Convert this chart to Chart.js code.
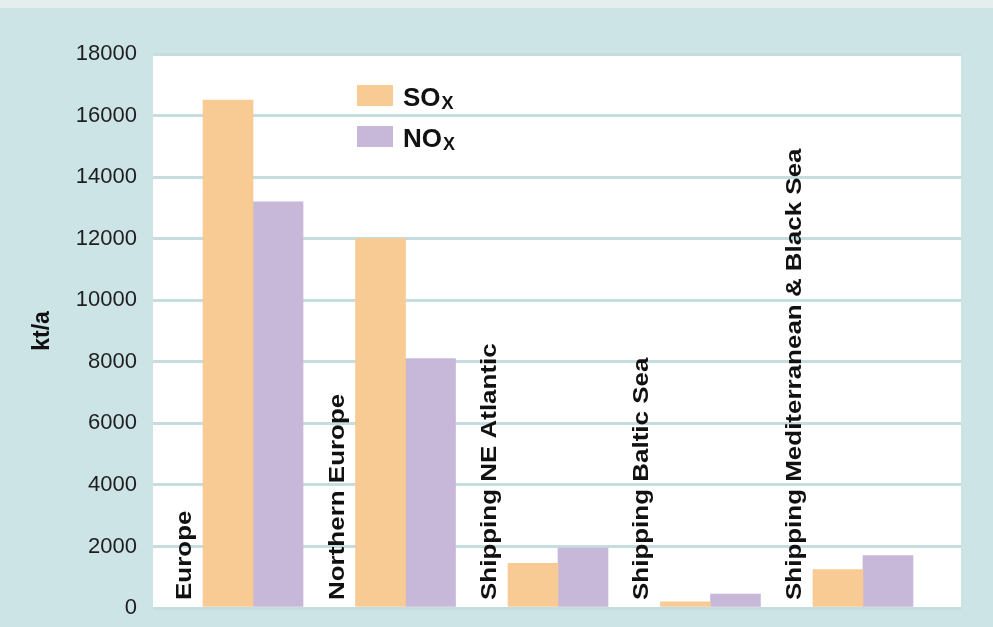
<!DOCTYPE html>
<html>
<head>
<meta charset="utf-8">
<title>SOx and NOx emissions</title>
<script src="https://cdn.jsdelivr.net/npm/chart.js@4.4.0/dist/chart.umd.min.js"></script>
<style>
  html, body { margin: 0; padding: 0; }
  body {
    width: 993px;
    height: 627px;
    overflow: hidden;
    background: linear-gradient(#e4eeec 0, #e4eeec 8px, #cde4e7 8px);
  }
  #wrap { position: relative; width: 993px; height: 627px; }
</style>
</head>
<body>
<div id="wrap"><canvas id="emissionsChart"></canvas></div>
<script>
  "use strict";

  // data (kt/a)
  var regions = ['Europe', 'Northern Europe', 'Shipping NE Atlantic', 'Shipping Baltic Sea', 'Shipping Mediterranean & Black Sea'];
  var soxValues = [16500, 12000, 1450, 200, 1250];
  var noxValues = [13200, 8100, 1950, 450, 1700];
  var yTicks = [0, 2000, 4000, 6000, 8000, 10000, 12000, 14000, 16000, 18000];
  var seriesNames = ['SO', 'NO'];
  var seriesSub = ['X', 'X'];
  var seriesColors = ['#f8ca94', '#c7b8d9'];

  function toPoints(values) {
    return values.map(function(v, i) { return { x: i, y: v }; });
  }

  /*white plot area*/
  var plotBackground = {
    id: 'plotBackground',
    beforeDraw: function(chart) {
      var a = chart.chartArea, ctx = chart.ctx;
      ctx.save();
      ctx.fillStyle = '#ffffff';
      ctx.fillRect(a.left, a.top, a.right - a.left, a.bottom - a.top);
      ctx.restore();
    }
  };

  /*rotated region names, standing left of each bar pair*/
  var regionLabels = {
    id: 'regionLabels',
    afterDatasetsDraw: function(chart) {
      var ctx = chart.ctx, xs = chart.scales.x, ys = chart.scales.y;
      var base = ys.getPixelForValue(0) - 8;
      ctx.save();
      ctx.fillStyle = '#111111';
      ctx.font = 'bold 22px "Liberation Sans", Arial, sans-serif';
      ctx.textAlign = 'left';
      ctx.textBaseline = 'alphabetic';
      regions.forEach(function(name, i) {
        var x = xs.getPixelForValue(i) - 62;
        ctx.save();
        ctx.translate(x, base);
        ctx.rotate(-Math.PI / 2);
        ctx.scale(1.18, 1);
        ctx.fillText(name, 0, 0);
        ctx.restore();
      });
      ctx.restore();
    }
  };

  /*legend with subscript x*/
  var seriesKey = {
    id: 'seriesKey',
    afterDraw: function(chart) {
      var ctx = chart.ctx, a = chart.chartArea;
      var left = a.left + 204, top = a.top + 31;
      ctx.save();
      chart.data.datasets.forEach(function(ds, i) {
        var y = top + i * 41;
        ctx.fillStyle = ds.backgroundColor;
        ctx.fillRect(left, y, 36, 21);
        ctx.fillStyle = '#111111';
        ctx.textAlign = 'left';
        ctx.textBaseline = 'alphabetic';
        ctx.font = 'bold 26px "Liberation Sans", Arial, sans-serif';
        ctx.fillText(seriesNames[i], left + 46, y + 21);
        var w = ctx.measureText(seriesNames[i]).width;
        ctx.font = 'bold 18px "Liberation Sans", Arial, sans-serif';
        ctx.fillText(seriesSub[i], left + 47 + w, y + 24);
      });
      ctx.restore();
    }
  };

  var ctx = document.getElementById('emissionsChart').getContext('2d');
  var chart = new Chart(ctx, {
    type: 'bar',
    data: {
      datasets: [{
          label: 'SOx',
          backgroundColor: seriesColors[0],
          borderWidth: 0,
          data: toPoints(soxValues)
        },
        {
          label: 'NOx',
          backgroundColor: seriesColors[1],
          borderWidth: 0,
          data: toPoints(noxValues)
        }
      ]
    },
    options: {
      responsive: true,
      maintainAspectRatio: false,
      animation: false,
      barThickness: 50,
      layout: {
        padding: { top: 54, right: 32, bottom: 19, left: 0 }
      },
      plugins: {
        legend: { display: false },
        tooltip: { enabled: false }
      },
      scales: {
        x: {
          type: 'linear',
          display: false,
          offset: false,
          min: -0.656,
          max: 4.643,
          ticks: { includeBounds: false }
        },
        y: {
          min: 0,
          max: 18000,
          afterBuildTicks: function(axis) {
            axis.ticks = yTicks.map(function(v) { return { value: v }; });
          },
          afterFit: function(axis) {
            axis.width = 153;
            axis.paddingBottom = 12;
          },
          border: { display: false },
          grid: {
            color: '#c6dde0',
            lineWidth: 3,
            drawTicks: false
          },
          ticks: {
            padding: 16,
            color: '#1e1e1e',
            font: { family: '"Liberation Sans", Arial, sans-serif', size: 22 },
            callback: function(value) { return String(value); }
          },
          title: {
            display: true,
            text: 'kt/a',
            color: '#111111',
            padding: { top: 29, bottom: 0 },
            font: { family: '"Liberation Sans", Arial, sans-serif', size: 23, weight: 'bold' }
          }
        }
      }
    },
    plugins: [plotBackground, regionLabels, seriesKey]
  });
</script>
</body>
</html>
